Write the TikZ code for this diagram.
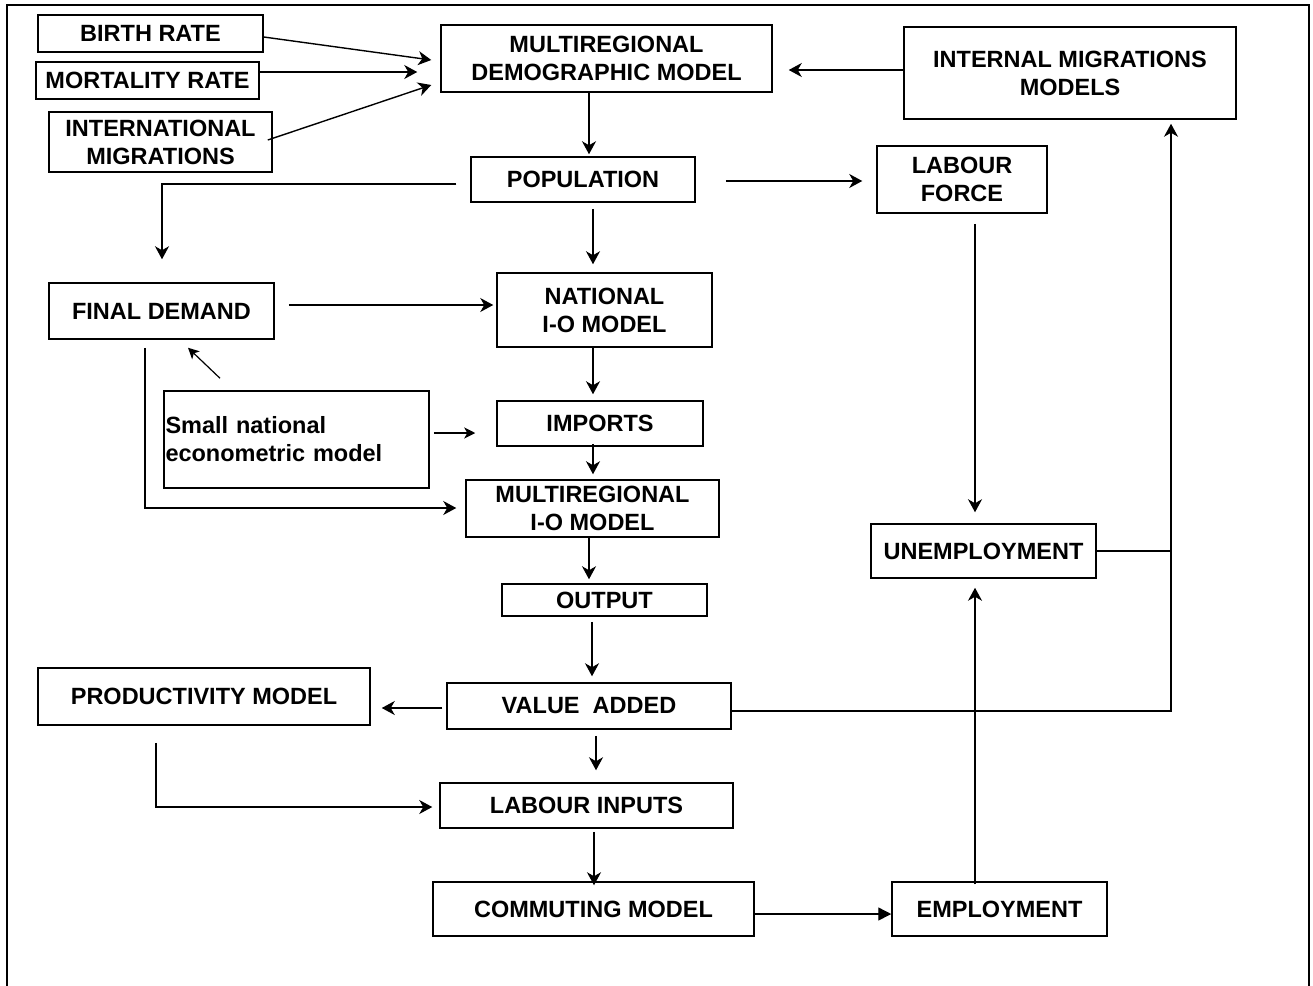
\documentclass[tikz,border=0pt]{standalone}
\usepackage{fontspec}
\setmainfont{Liberation Sans}
\usetikzlibrary{arrows.meta}
\begin{document}
\begin{tikzpicture}[x=1pt,y=-1pt,
  box/.style={draw, line width=1.5pt, inner sep=1pt, align=center,
    font=\fontsize{23.5}{28}\selectfont\bfseries},
  arr/.style={line width=1.4pt, -{Stealth[length=13pt,width=14pt,inset=4pt]}},
  sarr/.style={line width=1.2pt, -{Stealth[length=11pt,width=11pt,inset=3pt]}},
  tarr/.style={line width=1.4pt, -{Triangle[length=13pt,width=13pt]}},
  ln/.style={line width=1.4pt},
  frame/.style={line width=2.2pt}
]
\useasboundingbox (0,0) rectangle (1313,985);
\draw[frame] (7,5) rectangle (1309,1010);

% nodes
\node[box, minimum width=225pt, minimum height=37pt] (br) at (150.5,33.5) {BIRTH RATE};
\node[box, minimum width=223pt, minimum height=37pt] (mr) at (147.5,80.5) {MORTALITY RATE};
\node[box, minimum width=223pt, minimum height=60pt] (im) at (160.5,142) {INTERNATIONAL\\MIGRATIONS};
\node[box, minimum width=331pt, minimum height=67pt] (dem) at (606.5,58.5) {MULTIREGIONAL\\DEMOGRAPHIC MODEL};
\node[box, minimum width=332pt, minimum height=92pt] (imm) at (1070,73) {INTERNAL MIGRATIONS\\MODELS};
\node[box, minimum width=224pt, minimum height=45pt] (pop) at (583,179.5) {POPULATION};
\node[box, minimum width=170pt, minimum height=67pt] (lf) at (962,179.5) {LABOUR\\FORCE};
\node[box, minimum width=225pt, minimum height=56pt] (fd) at (161.5,311) {FINAL DEMAND};
\node[box, minimum width=265pt, minimum height=97pt, text width=262pt, inner xsep=1.5pt, align=left] (sn) at (296.5,439.5) {Small national\\econometric model};
\node[box, minimum width=215pt, minimum height=74pt] (nat) at (604.5,310) {NATIONAL\\I-O MODEL};
\node[box, minimum width=206pt, minimum height=45pt] (imp) at (600,423.5) {IMPORTS};
\node[box, minimum width=253pt, minimum height=57pt] (mio) at (592.5,508.5) {MULTIREGIONAL\\I-O MODEL};
\node[box, minimum width=205pt, minimum height=32pt] (out) at (604.5,600) {OUTPUT};
\node[box, minimum width=225pt, minimum height=54pt] (un) at (983.5,551) {UNEMPLOYMENT};
\node[box, minimum width=332pt, minimum height=57pt] (pm) at (204,696.5) {PRODUCTIVITY MODEL};
\node[box, minimum width=284pt, minimum height=46pt] (va) at (589,706) {VALUE\ \ ADDED};
\node[box, minimum width=293pt, minimum height=45pt] (li) at (586.5,805.5) {LABOUR INPUTS};
\node[box, minimum width=321pt, minimum height=54pt] (cm) at (593.5,909) {COMMUTING MODEL};
\node[box, minimum width=215pt, minimum height=54pt] (emp) at (999.5,909) {EMPLOYMENT};

% connectors
\draw[arr] ([yshift=-3.5pt]br.east) -- ([xshift=-9pt,yshift=-1.5pt]dem.west);
\draw[arr] ([yshift=8.5pt]mr.east) -- ([xshift=-23pt,yshift=-13.5pt]dem.west);
\draw[arr] ([xshift=-5pt,yshift=2pt]im.east) -- ([xshift=-9pt,yshift=-26.5pt]dem.west);
\draw[arr] ([yshift=3pt]imm.west) -- ([xshift=16pt,yshift=-11.5pt]dem.east);
\draw[arr] ([xshift=-17.5pt]dem.south) -- ([xshift=6pt,yshift=2pt]pop.north);
\draw[arr] ([xshift=30pt,yshift=-1.5pt]pop.east) -- ([xshift=-14pt,yshift=-1.5pt]lf.west);
\draw[arr] ([xshift=-14pt,yshift=-4.5pt]pop.west) -| ([xshift=0.5pt,yshift=23pt]fd.north);
\draw[arr] ([xshift=10pt,yshift=-6pt]pop.south) -- ([xshift=-11.5pt,yshift=8pt]nat.north);
\draw[arr] ([xshift=14pt,yshift=6pt]fd.east) -- ([xshift=-3pt,yshift=5pt]nat.west);
\draw[sarr] ([xshift=-76.5pt,yshift=12pt]sn.north) -- ([xshift=26.5pt,yshift=-8pt]fd.south);
\draw[sarr] ([xshift=4pt,yshift=6.5pt]sn.east) -- ([xshift=-21pt,yshift=-9.5pt]imp.west);
\draw[arr] ([xshift=-16.5pt,yshift=-8pt]fd.south) |- ([xshift=-9pt,yshift=0.5pt]mio.west);
\draw[arr] ([xshift=-11.5pt]nat.south) -- ([xshift=-7pt,yshift=6pt]imp.north);
\draw[arr] ([xshift=-7pt,yshift=3pt]imp.south) -- ([xshift=0.5pt,yshift=5pt]mio.north);
\draw[arr] ([xshift=-3.5pt]mio.south) -- ([xshift=-15.5pt,yshift=4pt]out.north);
\draw[arr] ([xshift=-12.5pt,yshift=-5pt]out.south) -- ([xshift=3pt,yshift=6pt]va.north);
\draw[arr] ([xshift=-4pt,yshift=-2pt]va.west) -- ([xshift=11pt,yshift=-11.5pt]pm.east);
\draw[arr] ([xshift=7pt,yshift=-6pt]va.south) -- ([xshift=9.5pt,yshift=12pt]li.north);
\draw[arr] ([xshift=-48pt,yshift=-17pt]pm.south) |- ([xshift=-7pt,yshift=-1.5pt]li.west);
\draw[arr] ([xshift=7.5pt,yshift=-3pt]li.south) -- ([xshift=0.5pt,yshift=-4pt]cm.north);
\draw[tarr] ([yshift=-5pt]cm.east) -- ([yshift=-5pt]emp.west);
\draw[arr] ([xshift=-24.5pt,yshift=-3pt]emp.north) -- ([xshift=-8.5pt,yshift=-9pt]un.south);
\draw[arr] ([xshift=13pt,yshift=-10pt]lf.south) -- ([xshift=-8.5pt,yshift=11pt]un.north);
\draw[arr] ([yshift=-5pt]va.east) -| ([xshift=101pt,yshift=-4pt]imm.south);
\draw[ln] (un.east) -- ([xshift=75pt]un.east);
\end{tikzpicture}
\end{document}
